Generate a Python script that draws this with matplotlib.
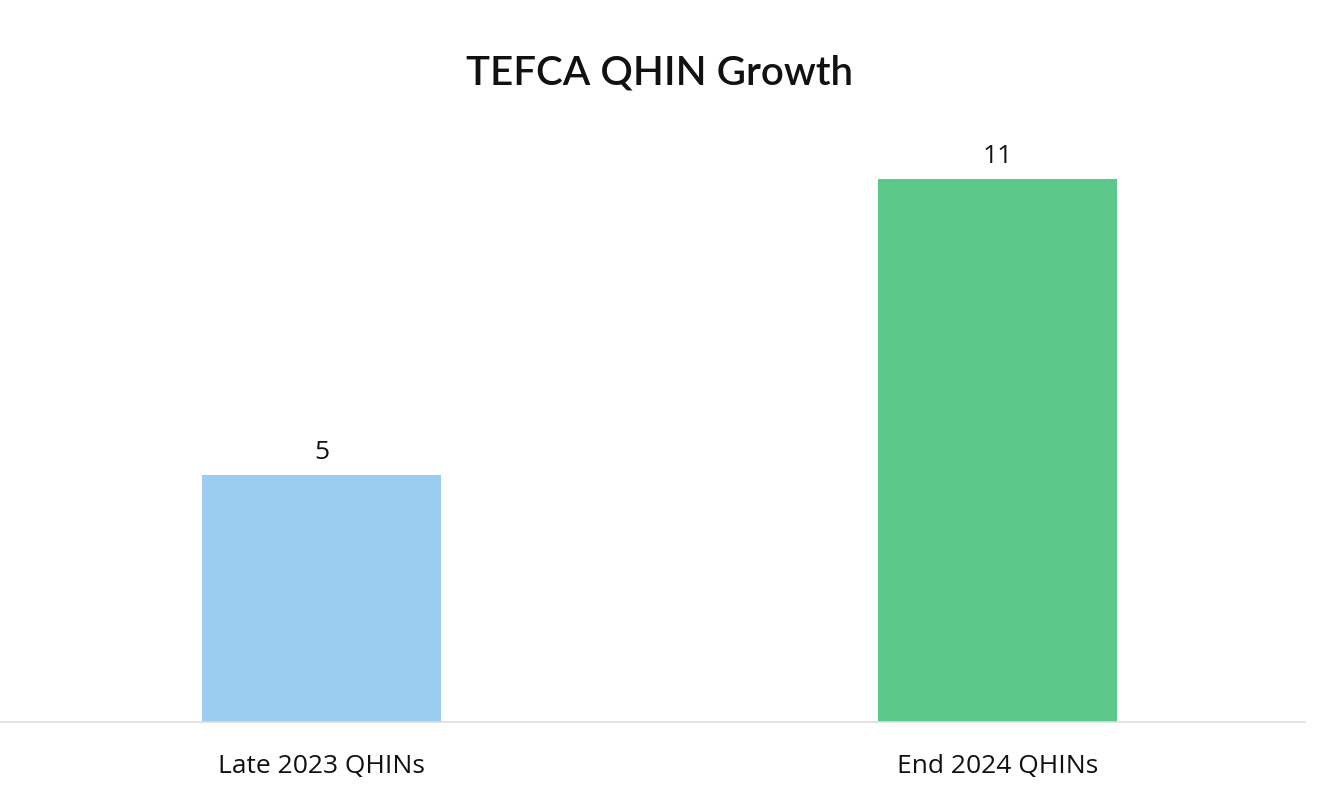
import matplotlib.pyplot as plt

# data
categories = ['Late 2023 QHINs', 'End 2024 QHINs']
values = [5, 11]
colors = ['#9BCDF0', '#5CC98A']

plt.rcParams['font.family'] = ['Open Sans', 'DejaVu Sans']

fig = plt.figure(figsize=(13.2, 8), dpi=100)
ax = fig.add_axes([0, 0.0975, 0.9886, 0.75])

x = range(len(categories))
bars = ax.bar(x, values, width=0.3536, color=colors)

ax.set_xlim(-0.4756, 1.4549)
ax.set_ylim(0, 600 / 49.4)

# value labels above bars
for b, v in zip(bars, values):
    ax.annotate(str(v), (b.get_x() + b.get_width() / 2, v),
                xytext=(0, 7), textcoords='offset points',
                ha='center', va='bottom', fontsize=19, color='#111111')

ax.set_xticks(list(x))
ax.set_xticklabels(categories, fontsize=19, color='#111111')
ax.tick_params(axis='x', length=0, pad=23)
ax.set_yticks([])

for s in ['top', 'right', 'left']:
    ax.spines[s].set_visible(False)
ax.spines['bottom'].set_color('#dddddd')
ax.spines['bottom'].set_linewidth(1.2)

fig.text(0.5, 1 - 73 / 800, 'TEFCA QHIN Growth', ha='center', va='center',
         fontsize=29, fontweight='semibold', family=['Lato', 'DejaVu Sans'],
         color='#111111')

fig.savefig('out.png', dpi=100, facecolor='white')
